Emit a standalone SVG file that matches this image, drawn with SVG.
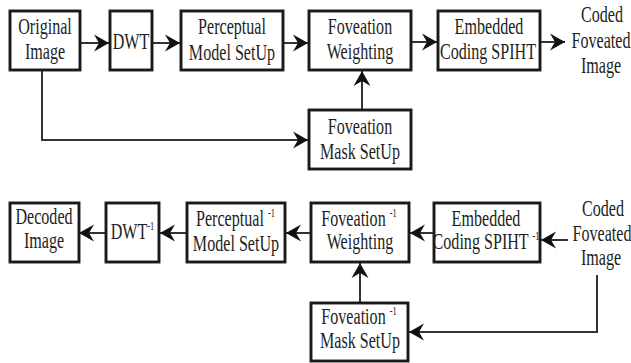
<svg xmlns="http://www.w3.org/2000/svg" width="631" height="363" viewBox="0 0 631 363">
<style>
.box{fill:#fff;stroke:#1a1a1a;stroke-width:2.9}
.t{font-family:"Liberation Serif","Times New Roman",Times,serif;font-size:23px;fill:#1e1e1e;text-anchor:middle}
.sup{font-size:12px}
.c{fill:none;stroke:#333;stroke-width:2}
</style>
<defs>
<marker id="ah" markerUnits="userSpaceOnUse" viewBox="-16 -9 17 18" markerWidth="17" markerHeight="18" refX="0" refY="0" orient="auto">
<path d="M0,0 L-15,-8.5 L-10,0 L-15,8.5 Z" fill="#111"/>
</marker>
</defs>
<rect width="631" height="363" fill="#fff"/>
<g id="connectors">
<path class="c" marker-end="url(#ah)" d="M81,43 H109"/>
<path class="c" marker-end="url(#ah)" d="M152,43 H180"/>
<path class="c" marker-end="url(#ah)" d="M284,43 H308"/>
<path class="c" marker-end="url(#ah)" d="M412,42 H437"/>
<path class="c" marker-end="url(#ah)" d="M541,42 H565"/>
<path class="c" marker-end="url(#ah)" d="M362,109 V71"/>
<path class="c" marker-end="url(#ah)" d="M42,71 V140 H308"/>
<path class="c" marker-end="url(#ah)" d="M568,240 H541"/>
<path class="c" marker-end="url(#ah)" d="M433,233 H410"/>
<path class="c" marker-end="url(#ah)" d="M311,233 H286"/>
<path class="c" marker-end="url(#ah)" d="M187,233 H160"/>
<path class="c" marker-end="url(#ah)" d="M106,233 H79"/>
<path class="c" marker-end="url(#ah)" d="M597,275 V332 H409"/>
<path class="c" marker-end="url(#ah)" d="M360,303 V263"/>
</g>
<g id="original-image">
<rect class="box" x="10" y="11" width="70" height="59"/>
<text class="t" transform="translate(45,34) scale(0.7,1)">Original</text>
<text class="t" transform="translate(45,59) scale(0.7,1)">Image</text>
</g>
<g id="dwt">
<rect class="box" x="110" y="11" width="42" height="59"/>
<text class="t" transform="translate(131,49) scale(0.7,1)">DWT</text>
</g>
<g id="perceptual">
<rect class="box" x="181" y="11" width="102" height="59"/>
<text class="t" transform="translate(232,34) scale(0.7,1)">Perceptual</text>
<text class="t" transform="translate(232,60) scale(0.7,1)">Model SetUp</text>
</g>
<g id="foveation-weighting">
<rect class="box" x="309" y="11" width="102" height="59"/>
<text class="t" transform="translate(360,34) scale(0.7,1)">Foveation</text>
<text class="t" transform="translate(360,59) scale(0.7,1)">Weighting</text>
</g>
<g id="embedded-coding">
<rect class="box" x="438" y="11" width="102" height="59"/>
<text class="t" transform="translate(489,34) scale(0.7,1)">Embedded</text>
<text class="t" transform="translate(488,59) scale(0.7,1)">Coding SPIHT</text>
</g>
<g id="coded-out">
<text class="t" transform="translate(602,22) scale(0.7,1)">Coded</text>
<text class="t" transform="translate(601,48) scale(0.7,1)">Foveated</text>
<text class="t" transform="translate(601,73) scale(0.7,1)">Image</text>
</g>
<g id="foveation-mask">
<rect class="box" x="309" y="110" width="102" height="59"/>
<text class="t" transform="translate(360,134) scale(0.7,1)">Foveation</text>
<text class="t" transform="translate(360,159) scale(0.7,1)">Mask SetUp</text>
</g>
<g id="decoded-image">
<rect class="box" x="10" y="203" width="69" height="59"/>
<text class="t" transform="translate(44,224) scale(0.7,1)">Decoded</text>
<text class="t" transform="translate(44,248) scale(0.7,1)">Image</text>
</g>
<g id="idwt">
<rect class="box" x="106" y="203" width="53" height="59"/>
<text class="t" transform="translate(132.5,239) scale(0.7,1)">DWT<tspan class="sup" dy="-9">-1</tspan></text>
</g>
<g id="iperceptual">
<rect class="box" x="187" y="203" width="98" height="59"/>
<text class="t" transform="translate(235.5,226) scale(0.7,1)">Perceptual <tspan class="sup" dy="-9">-1</tspan></text>
<text class="t" transform="translate(236,251) scale(0.7,1)">Model SetUp</text>
</g>
<g id="ifoveation-weighting">
<rect class="box" x="311" y="203" width="98" height="59"/>
<text class="t" transform="translate(359,226) scale(0.7,1)">Foveation <tspan class="sup" dy="-9">-1</tspan></text>
<text class="t" transform="translate(360,249) scale(0.7,1)">Weighting</text>
</g>
<g id="iembedded-coding">
<rect class="box" x="434" y="203" width="106" height="59"/>
<text class="t" transform="translate(486,226) scale(0.7,1)">Embedded</text>
<text class="t" transform="translate(486,249) scale(0.7,1)">Coding SPIHT <tspan class="sup" dy="-9">-1</tspan></text>
</g>
<g id="coded-in">
<text class="t" transform="translate(603,216) scale(0.7,1)">Coded</text>
<text class="t" transform="translate(602,241) scale(0.7,1)">Foveated</text>
<text class="t" transform="translate(601,265) scale(0.7,1)">Image</text>
</g>
<g id="ifoveation-mask">
<rect class="box" x="311" y="303" width="97" height="58"/>
<text class="t" transform="translate(359,324) scale(0.7,1)">Foveation <tspan class="sup" dy="-9">-1</tspan></text>
<text class="t" transform="translate(360,348) scale(0.7,1)">Mask SetUp</text>
</g>
</svg>
